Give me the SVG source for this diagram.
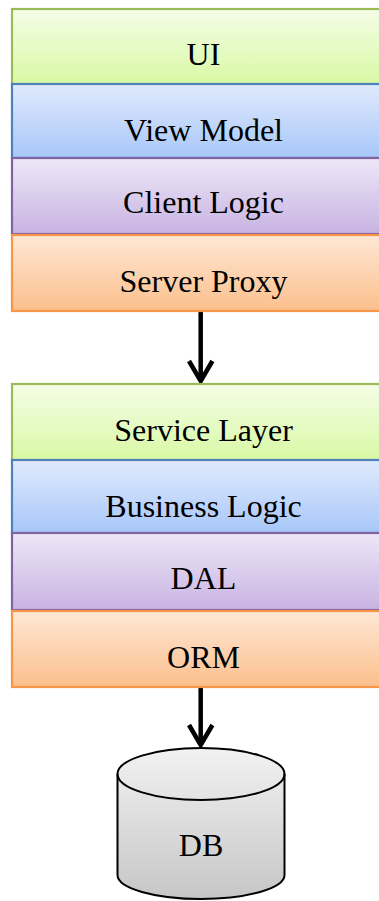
<svg xmlns="http://www.w3.org/2000/svg" width="379" height="901" viewBox="0 0 379 901">
<style>
  .lbl { font-family: "Liberation Serif", "Times New Roman", serif; font-size: 32px; fill: #000; text-anchor: middle; }
  .box { stroke-width: 2.2; }
  .g { fill: url(#gGreen); stroke: #9bbb59; }
  .b { fill: url(#gBlue); stroke: #4f81bd; }
  .p { fill: url(#gPurple); stroke: #8064a2; }
  .o { fill: url(#gOrange); stroke: #f79646; }
  .conn { stroke: #000; stroke-width: 4.5; fill: none; }
  .head { stroke: #000; stroke-width: 4.5; fill: none; stroke-linecap: butt; stroke-linejoin: miter; }
</style>
<defs>
  <linearGradient id="gGreen" x1="0" y1="0" x2="0" y2="1">
    <stop offset="0" stop-color="#f4fde7"/>
    <stop offset="1" stop-color="#d9f9a5"/>
  </linearGradient>
  <linearGradient id="gBlue" x1="0" y1="0" x2="0" y2="1">
    <stop offset="0" stop-color="#e1eafd"/>
    <stop offset="1" stop-color="#a7c7f8"/>
  </linearGradient>
  <linearGradient id="gPurple" x1="0" y1="0" x2="0" y2="1">
    <stop offset="0" stop-color="#eee7f7"/>
    <stop offset="1" stop-color="#c8b3e2"/>
  </linearGradient>
  <linearGradient id="gOrange" x1="0" y1="0" x2="0" y2="1">
    <stop offset="0" stop-color="#fee8d6"/>
    <stop offset="1" stop-color="#fcbf8c"/>
  </linearGradient>
  <linearGradient id="gGray" x1="0" y1="0" x2="0" y2="1">
    <stop offset="0" stop-color="#f2f2f2"/>
    <stop offset="1" stop-color="#c6c6c6"/>
  </linearGradient>
</defs>

<g id="connectors">
  <line class="conn" x1="200.7" y1="312" x2="200.7" y2="381"/>
  <polyline class="head" points="189,361 200.7,381 212.4,361"/>
  <line class="conn" x1="200.7" y1="688" x2="200.7" y2="745"/>
  <polyline class="head" points="189,725 200.7,745 212.4,725"/>
</g>

<g id="ui"><rect class="box g" x="12" y="9" width="383" height="75"/><text class="lbl" x="203.5" y="65">UI</text></g>
<g id="viewmodel"><rect class="box b" x="12" y="84" width="383" height="74"/><text class="lbl" x="203.5" y="141">View Model</text></g>
<g id="clientlogic"><rect class="box p" x="12" y="158" width="383" height="76"/><text class="lbl" x="203.5" y="213">Client Logic</text></g>
<g id="serverproxy"><rect class="box o" x="12" y="235" width="383" height="76"/><text class="lbl" x="203.5" y="292">Server Proxy</text></g>

<g id="servicelayer"><rect class="box g" x="12" y="384" width="383" height="76"/><text class="lbl" x="203.5" y="441">Service Layer</text></g>
<g id="businesslogic"><rect class="box b" x="12" y="460" width="383" height="73"/><text class="lbl" x="203.5" y="517">Business Logic</text></g>
<g id="dal"><rect class="box p" x="12" y="533" width="383" height="77"/><text class="lbl" x="203.5" y="589">DAL</text></g>
<g id="orm"><rect class="box o" x="12" y="611" width="383" height="76"/><text class="lbl" x="203.5" y="668">ORM</text></g>

<g id="db">
  <path d="M117.5,774 A83.5,26 0 0 1 284.5,774 L284.5,875 A83.5,24 0 0 1 117.5,875 Z" fill="url(#gGray)" stroke="#000" stroke-width="2"/>
  <path d="M117.5,774 A83.5,26 0 0 0 284.5,774" fill="none" stroke="#000" stroke-width="2"/>
  <text class="lbl" x="201" y="856">DB</text>
</g>
</svg>
